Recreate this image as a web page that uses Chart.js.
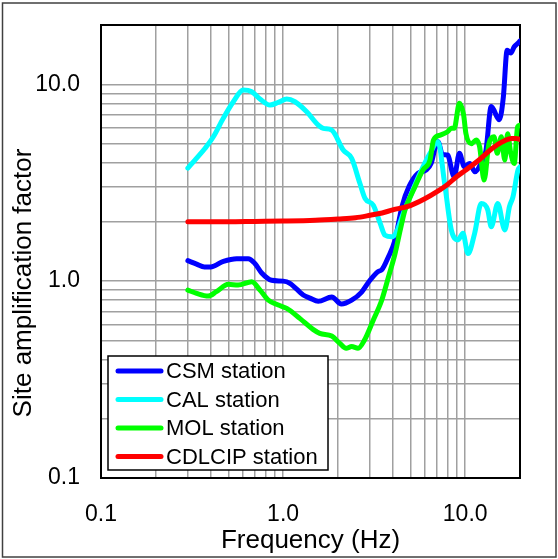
<!DOCTYPE html>
<html>
<head>
<meta charset="utf-8">
<title>Site amplification factor</title>
<script src="https://cdn.jsdelivr.net/npm/chart.js@4.4.1/dist/chart.umd.min.js"></script>
<style>
  html, body { margin: 0; padding: 0; background: #fff; }
  #chart { display: block; }
</style>
</head>
<body>
<canvas id="chart" width="558" height="559"></canvas>
<script>
// values (Hz, amplification)
var csmFreq = [0.30, 0.335, 0.37, 0.40, 0.47, 0.556, 0.643, 0.70, 0.763, 0.865, 1.0, 1.09, 1.29, 1.405, 1.56, 1.85, 2.09, 2.38, 2.70, 3.0, 3.33, 3.48, 3.79, 4.12, 4.5, 4.92, 5.5, 6.1, 6.5, 6.9, 7.09, 7.5, 8.0, 8.7, 9.3, 9.9, 10.6, 11.3, 12.2, 13.0, 13.9, 15.4, 16.2, 17.0, 17.8, 18.6, 19.4, 20];
var csmAmp = [1.27, 1.22, 1.18, 1.18, 1.26, 1.30, 1.30, 1.23, 1.10, 1.01, 1.0, 0.975, 0.85, 0.82, 0.79, 0.83, 0.765, 0.80, 0.88, 1.01, 1.12, 1.14, 1.33, 1.62, 2.4, 3.03, 3.53, 3.67, 3.96, 4.9, 5.1, 4.4, 4.37, 3.39, 4.46, 3.81, 3.96, 3.59, 3.96, 4.6, 7.7, 6.6, 8.6, 14.9, 14.4, 15.5, 16.1, 16.6];

var calFreq = [0.30, 0.328, 0.373, 0.414, 0.469, 0.533, 0.604, 0.673, 0.747, 0.847, 0.941, 1.047, 1.162, 1.348, 1.561, 1.663, 1.85, 2.14, 2.38, 2.64, 2.82, 3.13, 3.41, 3.63, 3.95, 4.2, 4.57, 4.98, 5.65, 6.41, 7.09, 7.71, 8.39, 9.12, 9.72, 10.36, 11.27, 12.25, 13.3, 13.9, 15.1, 16.5, 17.5, 18.3, 19.5, 20];
var calAmp = [3.75, 4.12, 4.73, 5.41, 6.71, 8.15, 9.34, 9.16, 8.41, 7.84, 8.09, 8.41, 8.15, 7.25, 6.2, 5.97, 5.85, 4.63, 4.2, 3.14, 2.63, 2.43, 1.97, 1.71, 1.68, 1.78, 2.21, 2.68, 3.53, 4.46, 5.1, 3.14, 1.82, 1.62, 1.75, 1.38, 1.75, 2.48, 2.3, 1.89, 2.48, 1.82, 2.39, 2.68, 3.67, 3.8];

var molFreq = [0.30, 0.335, 0.388, 0.43, 0.50, 0.566, 0.673, 0.747, 0.83, 0.941, 1.047, 1.235, 1.46, 1.59, 1.85, 2.05, 2.22, 2.38, 2.58, 2.8, 3.13, 3.48, 3.79, 4.12, 4.4, 4.67, 5.2, 5.86, 6.41, 6.7, 7.3, 8.0, 8.4, 8.7, 9.3, 9.8, 10.1, 10.8, 11.5, 12.0, 12.7, 13.5, 14.4, 15.0, 15.8, 16.5, 17.1, 17.8, 18.6, 19.4, 20];
var molAmp = [0.90, 0.867, 0.84, 0.884, 0.963, 0.955, 0.993, 0.90, 0.80, 0.756, 0.727, 0.647, 0.569, 0.543, 0.526, 0.483, 0.456, 0.465, 0.456, 0.502, 0.635, 0.80, 1.05, 1.38, 1.82, 2.30, 2.90, 3.67, 4.12, 5.21, 5.52, 5.74, 5.97, 5.97, 8.0, 7.0, 5.6, 4.99, 5.21, 4.81, 3.26, 4.99, 5.41, 4.46, 5.41, 4.12, 5.6, 4.46, 3.96, 6.08, 6.2];

var cdlFreq = [0.3, 0.5, 0.7, 1.0, 1.5, 2.0, 2.5, 3.0, 3.5, 4.0, 5.0, 6.0, 7.0, 8.0, 9.0, 10.0, 12.0, 14.0, 16.0, 18.0, 19.0, 20];
var cdlAmp = [2.0, 2.0, 2.01, 2.02, 2.04, 2.07, 2.1, 2.16, 2.22, 2.30, 2.42, 2.62, 2.85, 3.1, 3.4, 3.65, 4.15, 4.7, 5.1, 5.3, 5.3, 5.25];

var seriesNames = ['CSM station', 'CAL station', 'MOL station', 'CDLCIP station'];
var seriesColors = ['#0000ff', '#00ffff', '#00ff00', '#ff0000'];

var xTickValues = [0.1, 1, 10];
var xTickLabels = ['0.1', '1.0', '10.0'];
var yTickValues = [0.1, 1, 10];
var yTickLabels = ['0.1', '1.0', '10.0'];
var xTitle = 'Frequency (Hz)';
var yTitle = 'Site amplification factor';

var FONT = '"Liberation Sans", Arial, sans-serif';

function pairs(xs, ys) {
    return xs.map(function (x, i) { return { x: x, y: ys[i] }; });
}

// 1..9 x 10^n grid lines inside [min, max]
function logGrid(min, max) {
    var out = [];
    for (var d = 0.1; d <= max; d *= 10) {
        for (var m = 1; m < 10; m++) {
            var v = +(m * d).toPrecision(3);
            if (v >= min && v <= max) out.push(v);
        }
    }
    return out;
}

function labelFor(values, labels) {
    return function (v) {
        for (var i = 0; i < values.length; i++) {
            if (Math.abs(v - values[i]) < 1e-9) return labels[i];
        }
        return '';
    };
}

function makeSet(i, xs, ys, order) {
    return {
        label: seriesNames[i],
        data: pairs(xs, ys),
        borderColor: seriesColors[i],
        backgroundColor: seriesColors[i],
        borderWidth: 5,
        pointRadius: 0,
        fill: false,
        cubicInterpolationMode: 'monotone',
        borderCapStyle: 'round',
        borderJoinStyle: 'round',
        order: order
    };
}

var framePlugin = {
    id: 'frame',
    beforeDraw: function (chart) {
        var ctx = chart.ctx;
        ctx.save();
        ctx.fillStyle = '#fff';
        ctx.fillRect(0, 0, chart.width, chart.height);
        ctx.strokeStyle = '#404040';
        ctx.lineWidth = 1.5;
        ctx.strokeRect(2.5, 3, 553.5, 554);
        ctx.restore();
    },
    beforeDatasetsDraw: function (chart) {
        var a = chart.chartArea, ctx = chart.ctx;
        ctx.save();
        ctx.strokeStyle = '#000';
        ctx.lineWidth = 2;
        ctx.strokeRect(a.left, a.top, a.right - a.left, a.bottom - a.top);
        ctx.restore();
    },
    afterDraw: function (chart) {
        var ctx = chart.ctx, a = chart.chartArea;
        ctx.save();
        ctx.fillStyle = '#000';
        ctx.font = '26px ' + FONT;
        ctx.textAlign = 'center';
        ctx.textBaseline = 'middle';
        ctx.fillText(xTitle, (a.left + a.right) / 2, 541);
        ctx.translate(24, 283);
        ctx.rotate(-Math.PI / 2);
        ctx.fillText(yTitle, 0, 0);
        ctx.restore();

        // legend box inside the plot
        ctx.save();
        ctx.fillStyle = '#fff';
        ctx.fillRect(108, 356, 220, 114);
        ctx.strokeStyle = '#000';
        ctx.lineWidth = 1.5;
        ctx.strokeRect(108, 356, 220, 114);
        ctx.font = '22px ' + FONT;
        ctx.textAlign = 'left';
        ctx.textBaseline = 'middle';
        chart.data.datasets.forEach(function (ds, i) {
            var y = 371 + i * 28.5;
            ctx.strokeStyle = ds.borderColor;
            ctx.lineWidth = 5;
            ctx.lineCap = 'round';
            ctx.beginPath();
            ctx.moveTo(118, y);
            ctx.lineTo(161, y);
            ctx.stroke();
            ctx.fillStyle = '#000';
            ctx.fillText(ds.label, 166, y + 1);
        });
        ctx.restore();
    }
};

var gridX = logGrid(0.1, 20);
var gridY = logGrid(0.1, 20);

var ctx = document.getElementById('chart').getContext('2d');
var ampChart = new Chart(ctx, {
    type: 'line',
    data: {
        datasets: [
            makeSet(0, csmFreq, csmAmp, 3),
            makeSet(1, calFreq, calAmp, 2),
            makeSet(2, molFreq, molAmp, 1),
            makeSet(3, cdlFreq, cdlAmp, 0)
        ]
    },
    options: {
        responsive: false,
        animation: false,
        layout: { padding: { top: 25, right: 38, bottom: 0, left: 0 } },
        scales: {
            x: {
                type: 'logarithmic',
                min: 0.1,
                max: 20,
                afterBuildTicks: function (s) { s.ticks = gridX.map(function (v) { return { value: v }; }); },
                afterFit: function (s) {
                    s.height = 81;
                    s.paddingLeft = 0; s.paddingRight = 0;
                },
                grid: { color: '#a0a0a0', lineWidth: 1.5, drawTicks: false },
                border: { display: false },
                ticks: {
                    autoSkip: false, maxRotation: 0, minRotation: 0, padding: 23,
                    color: '#000', font: { family: FONT, size: 23 },
                    callback: labelFor(xTickValues, xTickLabels)
                }
            },
            y: {
                type: 'logarithmic',
                min: 0.1,
                max: 20,
                afterBuildTicks: function (s) { s.ticks = gridY.map(function (v) { return { value: v }; }); },
                afterFit: function (s) {
                    s.width = 101;
                    s.paddingTop = 0; s.paddingBottom = 0;
                },
                grid: { color: '#a0a0a0', lineWidth: 1.5, drawTicks: false },
                border: { display: false },
                ticks: {
                    autoSkip: false, padding: 21,
                    color: '#000', font: { family: FONT, size: 23 },
                    callback: labelFor(yTickValues, yTickLabels)
                }
            }
        },
        plugins: {
            legend: { display: false },
            tooltip: { enabled: false }
        }
    },
    plugins: [framePlugin]
});
</script>
</body>
</html>
